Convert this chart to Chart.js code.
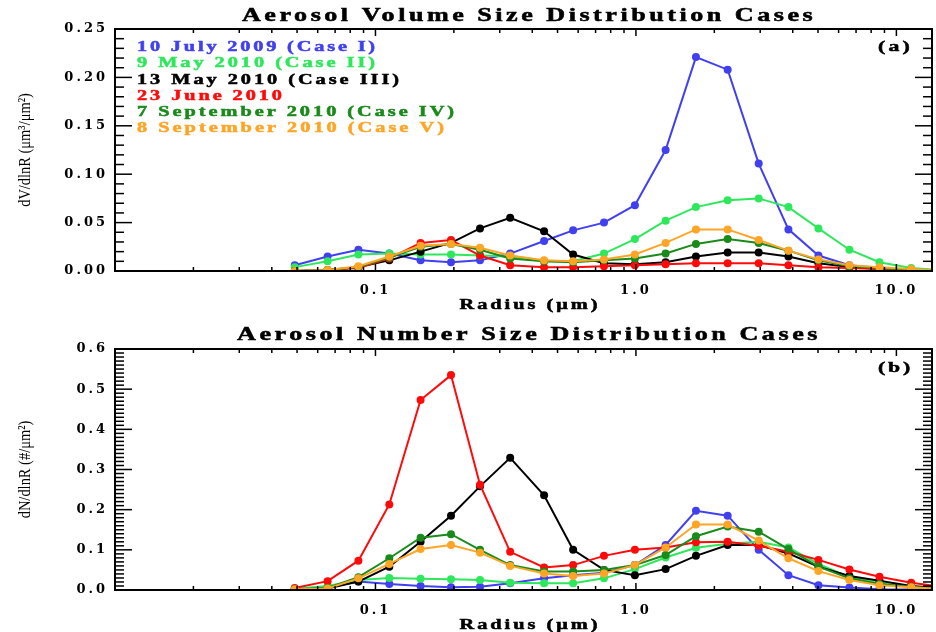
<!DOCTYPE html>
<html>
<head>
<meta charset="utf-8">
<script src="https://cdn.jsdelivr.net/npm/chart.js@4.4.1/dist/chart.umd.min.js"></script>
<style>
  html, body { margin: 0; padding: 0; background: #fff; }
  .panel { position: absolute; left: 0; width: 936px; height: 316px; }
</style>
</head>
<body>
<div class="panel" style="top:0"><canvas id="volChart"></canvas></div>
<div class="panel" style="top:316px"><canvas id="numChart"></canvas></div>
<script>
const radius = [0.049, 0.0655, 0.086, 0.113, 0.149, 0.195, 0.252, 0.329, 0.444, 0.574, 0.754,
                0.991, 1.30, 1.70, 2.25, 2.96, 3.85, 5.02, 6.60, 8.61, 11.4, 15.0];

const caseLabels = ['10 July 2009 (Case I)', '9 May 2010 (Case II)', '13 May 2010 (Case III)',
                    '23 June 2010', '7 September 2010 (Case IV)', '8 September 2010 (Case V)'];
const caseColors = ['#4040f0', '#2ee85c', '#000000', '#ff0a0a', '#1a8a1a', '#ffa526'];

// (a) dV/dlnR
const volCaseI   = [0.006, 0.015, 0.022, 0.018, 0.011, 0.009, 0.011, 0.018, 0.031, 0.042, 0.050, 0.068, 0.125, 0.221, 0.208, 0.111, 0.043, 0.016, 0.006, 0.003, 0.001, 0.000];
const volCaseII  = [0.004, 0.010, 0.017, 0.018, 0.017, 0.017, 0.016, 0.015, 0.010, 0.010, 0.018, 0.033, 0.052, 0.066, 0.073, 0.075, 0.066, 0.044, 0.022, 0.009, 0.003, 0.001];
const volCaseIII = [0.000, 0.001, 0.004, 0.011, 0.020, 0.029, 0.044, 0.055, 0.041, 0.017, 0.008, 0.007, 0.009, 0.015, 0.019, 0.019, 0.015, 0.008, 0.004, 0.002, 0.001, 0.000];
const volJune    = [0.000, 0.001, 0.003, 0.013, 0.029, 0.032, 0.016, 0.006, 0.004, 0.004, 0.005, 0.006, 0.007, 0.008, 0.008, 0.008, 0.006, 0.004, 0.003, 0.002, 0.001, 0.000];
const volCaseIV  = [0.000, 0.001, 0.004, 0.014, 0.025, 0.028, 0.022, 0.013, 0.010, 0.009, 0.011, 0.013, 0.018, 0.028, 0.033, 0.029, 0.021, 0.011, 0.005, 0.003, 0.001, 0.000];
const volCaseV   = [0.000, 0.001, 0.005, 0.015, 0.026, 0.028, 0.024, 0.016, 0.011, 0.010, 0.012, 0.017, 0.029, 0.043, 0.043, 0.032, 0.021, 0.012, 0.006, 0.004, 0.002, 0.000];

// (b) dN/dlnR
const numCaseI   = [0.002, 0.006, 0.021, 0.015, 0.010, 0.007, 0.008, 0.017, 0.029, 0.037, 0.043, 0.062, 0.112, 0.197, 0.185, 0.100, 0.037, 0.012, 0.006, 0.002, 0.001, 0.000];
const numCaseII  = [0.003, 0.010, 0.025, 0.030, 0.028, 0.027, 0.025, 0.018, 0.017, 0.017, 0.029, 0.052, 0.081, 0.105, 0.115, 0.120, 0.106, 0.065, 0.032, 0.017, 0.008, 0.003];
const numCaseIII = [0.002, 0.004, 0.021, 0.058, 0.120, 0.185, 0.258, 0.329, 0.236, 0.100, 0.050, 0.037, 0.052, 0.085, 0.112, 0.112, 0.091, 0.058, 0.035, 0.023, 0.010, 0.004];
const numJune    = [0.005, 0.022, 0.073, 0.213, 0.473, 0.535, 0.262, 0.095, 0.056, 0.062, 0.085, 0.100, 0.106, 0.119, 0.120, 0.110, 0.095, 0.075, 0.051, 0.033, 0.018, 0.008];
const numCaseIV  = [0.002, 0.005, 0.032, 0.079, 0.130, 0.139, 0.100, 0.062, 0.046, 0.046, 0.050, 0.062, 0.087, 0.134, 0.158, 0.145, 0.102, 0.058, 0.029, 0.015, 0.008, 0.003];
const numCaseV   = [0.002, 0.004, 0.029, 0.065, 0.102, 0.112, 0.093, 0.060, 0.041, 0.035, 0.041, 0.062, 0.106, 0.163, 0.163, 0.123, 0.079, 0.047, 0.025, 0.012, 0.007, 0.002];

const xTickValues = [0.1, 1, 10];

const volSeries = [volCaseI, volCaseII, volCaseIII, volJune, volCaseIV, volCaseV];
const numSeries = [numCaseI, numCaseII, numCaseIII, numJune, numCaseIV, numCaseV];

const tickFont = { family: '"DejaVu Serif"', size: 13, weight: 'bold' };

function makeDatasets(series) {
  return series.map((vals, i) => ({
    label: caseLabels[i],
    data: radius.map((r, k) => ({ x: r, y: vals[k] })),
    borderColor: caseColors[i],
    backgroundColor: caseColors[i],
    borderWidth: 2,
    pointRadius: 4,
    pointHoverRadius: 4,
    pointBorderWidth: 0,
    tension: 0,
    order: series.length - i
  }));
}

// text stretched sideways to the width
function drawFitted(ctx, text, x, y, font, color, width, align) {
  const sx = 1.45;
  ctx.save();
  ctx.font = font;
  ctx.letterSpacing = '0px';
  const w = ctx.measureText(text).width;
  const sp = Math.max(0, (width / sx - w) / text.length);
  ctx.letterSpacing = sp.toFixed(2) + 'px';
  ctx.fillStyle = color;
  ctx.strokeStyle = color;
  ctx.lineWidth = 0.5;
  ctx.textBaseline = 'middle';
  ctx.textAlign = 'left';
  const left = align === 'center' ? x - width / 2 : x;
  ctx.translate(left, y);
  ctx.scale(sx, 1);
  ctx.fillText(text, 0, 0);
  ctx.strokeText(text, 0, 0);
  ctx.restore();
}

function line(ctx, x1, y1, x2, y2) {
  ctx.beginPath(); ctx.moveTo(x1, y1); ctx.lineTo(x2, y2); ctx.stroke();
}

const framePlugin = {
  id: 'frame',
  beforeDraw(chart) { chart.ctx.letterSpacing = '3px'; },
  beforeDatasetsDraw(chart) { chart.ctx.letterSpacing = '0px'; },
  afterDraw(chart, args, opts) {
    const { ctx, chartArea: a, scales: { x, y } } = chart;
    ctx.save();
    ctx.strokeStyle = '#000';
    ctx.lineWidth = 2;
    ctx.strokeRect(a.left, a.top, a.right - a.left, a.bottom - a.top);
    ctx.lineWidth = 1.5;
    // log x ticks, inward on bottom and top
    for (let e = -2; e <= 1; e++) {
      for (let m = 1; m <= 9; m++) {
        const v = m * Math.pow(10, e);
        if (v < x.min || v > x.max) continue;
        const px = x.getPixelForValue(v);
        const len = m === 1 ? 7 : 4;
        line(ctx, px, a.bottom, px, a.bottom - len);
        line(ctx, px, a.top, px, a.top + len);
      }
    }
    // y ticks, inward on left and right
    const n = Math.round((y.max - y.min) / opts.yMinor);
    const per = Math.round(opts.yMajor / opts.yMinor);
    for (let k = 0; k <= n; k++) {
      const py = y.getPixelForValue(y.min + k * opts.yMinor);
      const len = k % per === 0 ? 17 : 9;
      line(ctx, a.left, py, a.left + len, py);
      line(ctx, a.right, py, a.right - len, py);
    }
    ctx.restore();

    const serifBold = sz => 'bold ' + sz + 'px "Liberation Serif"';
    drawFitted(ctx, opts.title, 529, opts.titleY, serifBold(18), '#000', opts.titleW, 'center');
    drawFitted(ctx, opts.panel, 878, opts.panelY, serifBold(15), '#000', 35, 'left');
    drawFitted(ctx, 'Radius (\u03bcm)', 530, opts.xTitleY, serifBold(14), '#000', 141, 'center');
    if (opts.legend) {
      const ys = [47, 63, 80, 96, 112, 128];
      const ws = [241, 241, 265, 148, 320, 310];
      caseLabels.forEach((t, i) => drawFitted(ctx, t, 137, ys[i], serifBold(14), caseColors[i], ws[i], 'left'));
    }
    // y title, condensed along its length
    ctx.save();
    ctx.translate(26, (a.top + a.bottom) / 2);
    ctx.rotate(-Math.PI / 2);
    ctx.scale(0.85, 1);
    ctx.font = '17px "Liberation Serif"';
    ctx.fillStyle = '#000';
    ctx.textAlign = 'center';
    ctx.textBaseline = 'middle';
    ctx.fillText(opts.yTitle, 0, 0);
    ctx.restore();
  }
};

function makeConfig(series, yMax, yMajor, digits, topPad, xHeight, xPad, frameOpts) {
  return {
    type: 'line',
    data: { datasets: makeDatasets(series) },
    plugins: [framePlugin],
    options: {
      responsive: true,
      maintainAspectRatio: false,
      animation: false,
      events: [],
      layout: { padding: { top: topPad, right: 3, bottom: 0, left: 0 } },
      plugins: {
        legend: { display: false },
        tooltip: { enabled: false },
        frame: Object.assign({ yMajor: yMajor, yMinor: 0.01 }, frameOpts)
      },
      scales: {
        x: {
          type: 'logarithmic',
          min: 0.01,
          max: 13.7,
          afterBuildTicks: s => { s.ticks = xTickValues.map(v => ({ value: v })); },
          afterFit: s => { s.height = xHeight; },
          grid: { display: false, drawTicks: false },
          border: { display: false },
          ticks: { font: tickFont, color: '#000', padding: xPad, autoSkip: false, maxRotation: 0,
                   callback: v => Number(v).toFixed(1) }
        },
        y: {
          min: 0,
          max: yMax,
          afterFit: s => { s.width = 115; },
          grid: { display: false, drawTicks: false },
          border: { display: false },
          ticks: { font: tickFont, color: '#000', padding: 7, stepSize: yMajor,
                   callback: v => Number(v).toFixed(digits) }
        }
      }
    }
  };
}

new Chart(document.getElementById('volChart'),
  makeConfig(volSeries, 0.25, 0.05, 2, 29, 45, 12, {
    title: 'Aerosol Volume Size Distribution Cases', titleY: 16, titleW: 574,
    panel: '(a)', panelY: 47, xTitleY: 305, legend: true,
    yTitle: 'dV/dlnR (\u03bcm\u00b3/\u03bcm\u00b2)'
  }));

new Chart(document.getElementById('numChart'),
  makeConfig(numSeries, 0.6, 0.1, 1, 33, 42, 13, {
    title: 'Aerosol Number Size Distribution Cases', titleY: 19, titleW: 584,
    panel: '(b)', panelY: 52, xTitleY: 309, legend: false,
    yTitle: 'dN/dlnR (#/\u03bcm\u00b2)'
  }));
</script>
</body>
</html>
